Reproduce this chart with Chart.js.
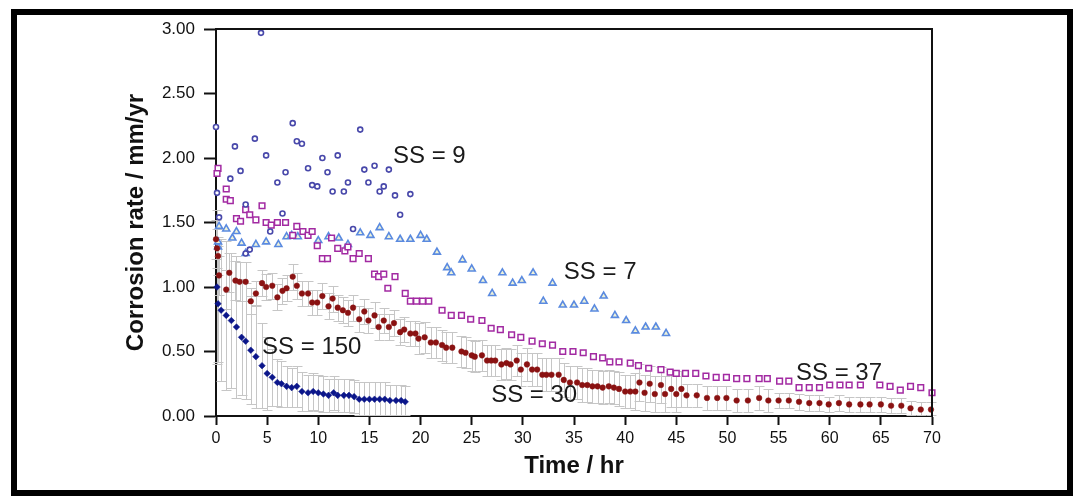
<!DOCTYPE html>
<html>
<head>
<meta charset="utf-8">
<script src="https://cdn.jsdelivr.net/npm/chart.js@4.4.0/dist/chart.umd.min.js"></script>
<style>
  html, body { margin: 0; padding: 0; background: #fff; }
  #wrap { position: relative; width: 1083px; height: 502px; }
  #frame { position: absolute; left: 11px; top: 9px; width: 1050px; height: 475px; border: 6px solid #000; pointer-events: none; }
</style>
</head>
<body>
<div id="wrap">
  <canvas id="chart" width="1083" height="502"></canvas>
  <div id="frame"></div>
</div>
<script>
// [time hr, rate mm/yr]
const ss9 = [
  [0.0, 2.24], [0.1, 1.73], [0.3, 1.54], [1.4, 1.84], [1.85, 2.09], [2.4, 1.90], [2.9, 1.64], [2.9, 1.26],
  [3.3, 1.29], [3.8, 2.15], [4.4, 2.97], [4.9, 2.02], [5.3, 1.43], [6.0, 1.81], [6.5, 1.57], [6.8, 1.89],
  [7.5, 2.27], [7.9, 2.13], [8.4, 2.11], [9.0, 1.92], [9.4, 1.79], [9.9, 1.78], [10.4, 2.00], [10.9, 1.89],
  [11.4, 1.74], [11.9, 2.02], [12.5, 1.74], [12.9, 1.81], [13.4, 1.45], [14.1, 2.22], [14.5, 1.91], [14.9, 1.81],
  [15.5, 1.94], [16.0, 1.74], [16.4, 1.78], [16.9, 1.91], [17.5, 1.71], [18.0, 1.56], [19.0, 1.72]
];

const ss7 = [
  [0.2, 1.31], [0.2, 1.35], [0.3, 1.47], [1.0, 1.45], [1.6, 1.38], [2.0, 1.43], [2.5, 1.34], [2.9, 1.26],
  [3.9, 1.33], [4.9, 1.35], [6.1, 1.33], [6.9, 1.39], [7.4, 1.40], [8.0, 1.39], [10.0, 1.36], [11.0, 1.39],
  [12.0, 1.38], [12.9, 1.33], [14.1, 1.42], [15.1, 1.40], [16.0, 1.46], [16.9, 1.39], [18.0, 1.37], [19.0, 1.37],
  [20.0, 1.40], [20.6, 1.37], [21.6, 1.27], [22.6, 1.15], [23.0, 1.11], [24.1, 1.21], [25.0, 1.14], [26.1, 1.05],
  [27.0, 0.95], [28.0, 1.11], [29.0, 1.03], [29.9, 1.05], [31.0, 1.11], [32.0, 0.89], [32.9, 1.03], [33.9, 0.86],
  [35.0, 0.86], [36.0, 0.89], [37.0, 0.83], [37.9, 0.93], [39.0, 0.78], [40.1, 0.74], [41.0, 0.66], [42.0, 0.69],
  [43.0, 0.69], [44.0, 0.64]
];

const ss37 = [
  [0.2, 1.92], [0.1, 1.88], [1.0, 1.76], [1.0, 1.68], [1.4, 1.67], [2.0, 1.53], [2.4, 1.51], [2.9, 1.60],
  [3.3, 1.56], [3.9, 1.52], [4.5, 1.63], [4.9, 1.50], [5.4, 1.48], [6.0, 1.50], [6.8, 1.50], [7.5, 1.40],
  [7.9, 1.47], [8.5, 1.43], [9.0, 1.40], [9.4, 1.43], [9.9, 1.32], [10.4, 1.22], [10.9, 1.22], [11.3, 1.38],
  [11.9, 1.30], [12.6, 1.28], [12.9, 1.31], [13.4, 1.22], [14.0, 1.26], [14.9, 1.22], [15.5, 1.10], [15.9, 1.08],
  [16.4, 1.10], [16.8, 0.99], [17.5, 1.08], [18.5, 0.95], [19.0, 0.89], [19.6, 0.89], [20.2, 0.89], [20.8, 0.89],
  [22.1, 0.82], [23.0, 0.78], [24.0, 0.78], [24.9, 0.75], [26.0, 0.74], [26.9, 0.68], [27.8, 0.67], [28.9, 0.63],
  [29.8, 0.61], [30.9, 0.58], [31.9, 0.56], [32.9, 0.55], [33.9, 0.50], [34.9, 0.50], [35.9, 0.49], [36.9, 0.46],
  [37.8, 0.45], [38.5, 0.42], [39.4, 0.42], [40.5, 0.41], [41.3, 0.39], [42.3, 0.37], [43.5, 0.36], [44.4, 0.34],
  [45.0, 0.33], [45.9, 0.33], [46.9, 0.33], [47.9, 0.31], [48.9, 0.30], [49.9, 0.30], [50.9, 0.29], [51.9, 0.29],
  [53.1, 0.29], [53.9, 0.29], [55.1, 0.27], [56.0, 0.27], [57.0, 0.22], [58.0, 0.22], [59.0, 0.22], [60.0, 0.24],
  [61.0, 0.24], [61.9, 0.24], [63.0, 0.24], [64.9, 0.24], [65.9, 0.23], [66.9, 0.20], [67.9, 0.23], [68.9, 0.22],
  [70.0, 0.18]
];

// [time hr, rate mm/yr, error]
const ss30 = [
  [0.0, 1.37, 0.15], [0.1, 1.30, 0.15], [0.2, 1.24, 0.15], [0.3, 1.09, 0.15], [1.0, 0.98, 0.15], [1.3, 1.11, 0.15],
  [1.9, 1.05, 0.15], [2.3, 1.04, 0.15], [2.9, 1.04, 0.15], [3.4, 0.89, 0.10], [3.9, 0.95, 0.10], [4.5, 1.03, 0.10],
  [4.9, 1.00, 0.10], [5.5, 1.01, 0.10], [6.0, 0.92, 0.10], [6.5, 0.97, 0.10], [6.9, 0.99, 0.10], [7.5, 1.08, 0.10],
  [7.9, 1.01, 0.10], [8.4, 0.95, 0.10], [9.0, 0.95, 0.10], [9.4, 0.88, 0.10], [9.9, 0.88, 0.10], [10.4, 0.93, 0.10],
  [11.0, 0.85, 0.10], [11.4, 0.91, 0.10], [11.9, 0.84, 0.10], [12.4, 0.82, 0.10], [12.9, 0.80, 0.10], [13.4, 0.84, 0.10],
  [14.0, 0.75, 0.10], [14.5, 0.81, 0.10], [14.9, 0.74, 0.10], [15.5, 0.78, 0.10], [15.9, 0.69, 0.10], [16.4, 0.74, 0.10],
  [16.9, 0.69, 0.10], [17.4, 0.72, 0.10], [18.0, 0.65, 0.10], [18.4, 0.67, 0.10], [19.0, 0.64, 0.10], [19.5, 0.64, 0.10],
  [19.8, 0.60, 0.12], [20.4, 0.61, 0.12], [21.0, 0.57, 0.12], [21.5, 0.57, 0.12], [22.1, 0.55, 0.12], [22.5, 0.53, 0.12],
  [23.1, 0.53, 0.12], [24.0, 0.50, 0.12], [24.4, 0.49, 0.12], [25.0, 0.47, 0.12], [25.3, 0.46, 0.12], [26.0, 0.47, 0.12],
  [26.5, 0.43, 0.12], [26.9, 0.43, 0.12], [27.3, 0.43, 0.12], [27.9, 0.40, 0.12], [28.4, 0.41, 0.12], [28.8, 0.40, 0.12],
  [29.4, 0.43, 0.12], [29.8, 0.36, 0.13], [30.4, 0.40, 0.13], [30.9, 0.36, 0.13], [31.4, 0.36, 0.13], [31.9, 0.32, 0.13],
  [32.3, 0.32, 0.13], [32.8, 0.32, 0.13], [33.5, 0.32, 0.13], [34.0, 0.28, 0.13], [34.6, 0.26, 0.13], [35.3, 0.26, 0.13],
  [35.8, 0.24, 0.13], [36.3, 0.24, 0.13], [36.8, 0.23, 0.13], [37.3, 0.23, 0.13], [37.8, 0.22, 0.13], [38.4, 0.23, 0.13],
  [38.9, 0.22, 0.13], [39.4, 0.21, 0.13], [40.0, 0.19, 0.13], [40.5, 0.19, 0.13], [41.0, 0.19, 0.14], [41.4, 0.26, 0.14],
  [41.9, 0.18, 0.14], [42.4, 0.25, 0.14], [42.9, 0.17, 0.14], [43.5, 0.24, 0.14], [43.9, 0.17, 0.14], [44.5, 0.21, 0.14],
  [45.0, 0.17, 0.14], [45.5, 0.21, 0.14], [46.0, 0.16, 0.09], [47.0, 0.16, 0.09], [48.0, 0.14, 0.09], [49.0, 0.14, 0.09],
  [49.9, 0.14, 0.09], [50.9, 0.12, 0.09], [52.0, 0.12, 0.09], [53.1, 0.14, 0.09], [54.0, 0.12, 0.09], [55.0, 0.12, 0.06],
  [56.0, 0.12, 0.06], [57.0, 0.11, 0.06], [58.0, 0.10, 0.06], [59.0, 0.10, 0.06], [59.9, 0.09, 0.06], [60.9, 0.10, 0.06],
  [61.9, 0.09, 0.06], [63.0, 0.09, 0.06], [63.9, 0.09, 0.06], [65.0, 0.09, 0.06], [66.0, 0.08, 0.06], [67.0, 0.08, 0.06],
  [67.9, 0.06, 0.06], [68.9, 0.05, 0.06], [69.9, 0.05, 0.06]
];

const ss150 = [
  [0.1, 1.00, 0.60], [0.2, 0.87, 0.45], [0.5, 0.82, 0.55], [1.0, 0.78, 0.58], [1.5, 0.74, 0.52], [2.0, 0.69, 0.55],
  [2.5, 0.61, 0.45], [2.9, 0.58, 0.45], [3.4, 0.51, 0.42], [3.9, 0.46, 0.40], [4.5, 0.39, 0.33], [5.0, 0.33, 0.28],
  [5.5, 0.30, 0.22], [6.0, 0.26, 0.18], [6.4, 0.25, 0.18], [6.9, 0.23, 0.16], [7.4, 0.22, 0.15], [7.9, 0.23, 0.16],
  [8.4, 0.19, 0.15], [9.0, 0.18, 0.14], [9.5, 0.19, 0.14], [10.0, 0.18, 0.14], [10.5, 0.17, 0.14], [11.0, 0.16, 0.13],
  [11.5, 0.18, 0.13], [11.9, 0.16, 0.13], [12.5, 0.16, 0.13], [13.0, 0.16, 0.13], [13.5, 0.15, 0.13], [14.0, 0.13, 0.13],
  [14.5, 0.13, 0.13], [15.0, 0.13, 0.13], [15.5, 0.13, 0.13], [16.0, 0.13, 0.13], [16.5, 0.13, 0.13], [17.0, 0.12, 0.12],
  [17.6, 0.12, 0.12], [18.1, 0.12, 0.12], [18.5, 0.11, 0.12]
];

// series labels, placed in data units [text, time, rate]
const notes = [
  ['SS = 9', 17.3, 2.01],
  ['SS = 7', 34.0, 1.11],
  ['SS = 150', 4.5, 0.53],
  ['SS = 30', 26.9, 0.16],
  ['SS = 37', 56.7, 0.33]
];

const toXY = arr => arr.map(p => ({ x: p[0], y: p[1] }));
const fontFamily = '"Liberation Sans", Arial, sans-serif';

const extras = {
    id: 'extras',
    beforeDatasetsDraw(chart) {
        const { ctx } = chart;
        const x = chart.scales.x, y = chart.scales.y;
        ctx.save();
        ctx.strokeStyle = '#c6c6c6';
        ctx.lineWidth = 1;
        // error bars
        [ss30, ss150].forEach(serie => {
            serie.forEach(p => {
                const px = Math.round(x.getPixelForValue(p[0])) + 0.5;
                const top = Math.round(y.getPixelForValue(p[1] + p[2])) + 0.5;
                const bot = Math.round(y.getPixelForValue(Math.max(p[1] - p[2], 0.01))) + 0.5;
                ctx.beginPath();
                ctx.moveTo(px, top); ctx.lineTo(px, bot);
                ctx.moveTo(px - 5, top); ctx.lineTo(px + 5, top);
                ctx.moveTo(px - 5, bot); ctx.lineTo(px + 5, bot);
                ctx.stroke();
            });
        });
        ctx.restore();
    },
    afterDatasetsDraw(chart) {
        const { ctx, chartArea } = chart;
        const x = chart.scales.x, y = chart.scales.y;
        ctx.save();
        // top and right frame
        ctx.strokeStyle = '#111';
        ctx.lineWidth = 2;
        ctx.beginPath();
        ctx.moveTo(chartArea.left, chartArea.top);
        ctx.lineTo(chartArea.right, chartArea.top);
        ctx.lineTo(chartArea.right, chartArea.bottom);
        ctx.stroke();
        // labels
        ctx.fillStyle = '#1a1a1a';
        ctx.font = '24px ' + fontFamily;
        ctx.textBaseline = 'middle';
        ctx.textAlign = 'left';
        notes.forEach(n => {
            ctx.fillText(n[0], x.getPixelForValue(n[1]), y.getPixelForValue(n[2]));
        });
        ctx.restore();
    }
};

new Chart(document.getElementById('chart'), {
    type: 'scatter',
    data: {
        datasets: [
            {
                label: 'SS = 150', data: toXY(ss150), pointStyle: 'rectRot', pointRadius: 3.3,
                backgroundColor: '#0b168a', borderColor: '#0b168a', borderWidth: 0.5
            },
            {
                label: 'SS = 30', data: toXY(ss30), pointStyle: 'circle', pointRadius: 2.8,
                backgroundColor: '#8a1212', borderColor: '#8a1212', borderWidth: 0.5
            },
            {
                label: 'SS = 9', data: toXY(ss9), pointStyle: 'circle', pointRadius: 2.5,
                backgroundColor: '#ffffff', borderColor: '#4848aa', borderWidth: 1.6
            },
            {
                label: 'SS = 37', data: toXY(ss37), pointStyle: 'rect', pointRadius: 4,
                backgroundColor: '#ffffff', borderColor: '#a22aa2', borderWidth: 1.5
            },
            {
                label: 'SS = 7', data: toXY(ss7), pointStyle: 'triangle', pointRadius: 4,
                backgroundColor: '#eef2d8', borderColor: '#5a8ae0', borderWidth: 1.6
            }
        ]
    },
    options: {
        responsive: false,
        animation: false,
        clip: false,
        layout: { padding: { left: 118, right: 151, top: 29, bottom: 17 } },
        plugins: {
            legend: { display: false },
            tooltip: { enabled: false }
        },
        scales: {
            x: {
                type: 'linear', min: 0, max: 70,
                afterFit: s => { s.height = 69; },
                ticks: {
                    stepSize: 5, color: '#111', padding: 4,
                    font: { family: fontFamily, size: 16 }
                },
                grid: { drawOnChartArea: false, drawTicks: true, tickLength: 9, tickColor: '#111', tickWidth: 2 },
                border: { display: true, color: '#111', width: 2 },
                title: {
                    display: true, text: 'Time / hr', color: '#111',
                    font: { family: fontFamily, size: 24, weight: 'bold' }
                }
            },
            y: {
                type: 'linear', min: 0, max: 3,
                afterFit: s => { s.width = 98; },
                ticks: {
                    stepSize: 0.5, color: '#111', padding: 9,
                    callback: v => v.toFixed(2),
                    font: { family: fontFamily, size: 17 }
                },
                grid: { drawOnChartArea: false, drawTicks: true, tickLength: 12, tickColor: '#111', tickWidth: 2 },
                border: { display: true, color: '#111', width: 2 },
                title: {
                    display: true, text: 'Corrosion rate / mm/yr', color: '#111',
                    font: { family: fontFamily, size: 24, weight: 'bold' }
                }
            }
        }
    },
    plugins: [extras]
});
</script>
</body>
</html>
